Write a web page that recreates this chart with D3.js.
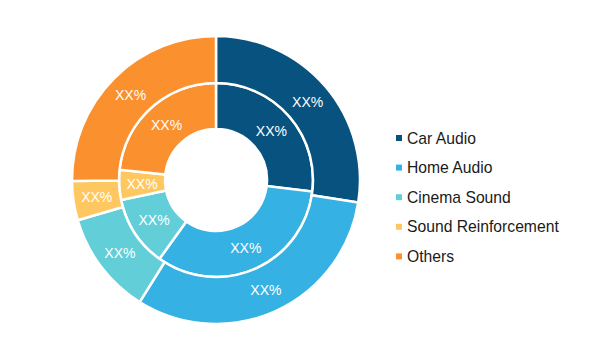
<!DOCTYPE html>
<html><head><meta charset="utf-8">
<script src="https://cdn.jsdelivr.net/npm/d3@7"></script>
<style>body{margin:0;background:#fff}svg{display:block}</style>
</head><body>
<svg id="c" width="600" height="360"></svg>
<script>
const categories = ["Car Audio","Home Audio","Cinema Sound","Sound Reinforcement","Others"];
const innerValues = [26.9, 33.0, 11.8, 5.0, 23.3];
const outerValues = [27.5, 31.4, 11.6, 4.4, 25.1];
const labelText = "XX%";
const colors = ["#08527f","#35b1e3","#62ced8","#fec75f","#fa912e"];

const svg = d3.select("#c");
const cx = 216, cy = 180;
const color = d3.scaleOrdinal().domain(categories).range(colors);
const pie = d3.pie().sort(null).value(d => d.v);

function ring(values, r0, r1){
  const data = pie(categories.map((c,i)=>({c, v: values[i]})));
  const arc = d3.arc().innerRadius(r0).outerRadius(r1);
  const g = svg.append("g").attr("transform",`translate(${cx},${cy})`);
  g.selectAll("path").data(data).join("path")
    .attr("d", arc).attr("fill", d => color(d.data.c))
    .attr("stroke","#fff").attr("stroke-width",2.5);
  g.selectAll("text").data(data).join("text")
    .attr("transform", d => `translate(${arc.centroid(d)})`)
    .attr("text-anchor","middle").attr("dy","0.36em")
    .attr("fill","#fff").attr("font-family","Liberation Sans, Arial, sans-serif")
    .attr("font-size",14).attr("font-weight",300)
    .text(labelText);
}
ring(innerValues, 51, 97);
ring(outerValues, 97, 144);

const leg = svg.append("g").attr("transform","translate(396,138)");
const rows = leg.selectAll("g").data(categories).join("g")
  .attr("transform",(d,i)=>`translate(0,${i*29.6})`);
rows.append("rect").attr("x",0).attr("y",-3).attr("width",6).attr("height",6)
  .attr("fill", d => color(d));
rows.append("text").attr("x",11).attr("dy","0.36em")
  .attr("font-family","Liberation Sans, Arial, sans-serif").attr("font-size",15.7)
  .attr("fill","#1a1a1a").text(d=>d);
</script>
</body></html>
